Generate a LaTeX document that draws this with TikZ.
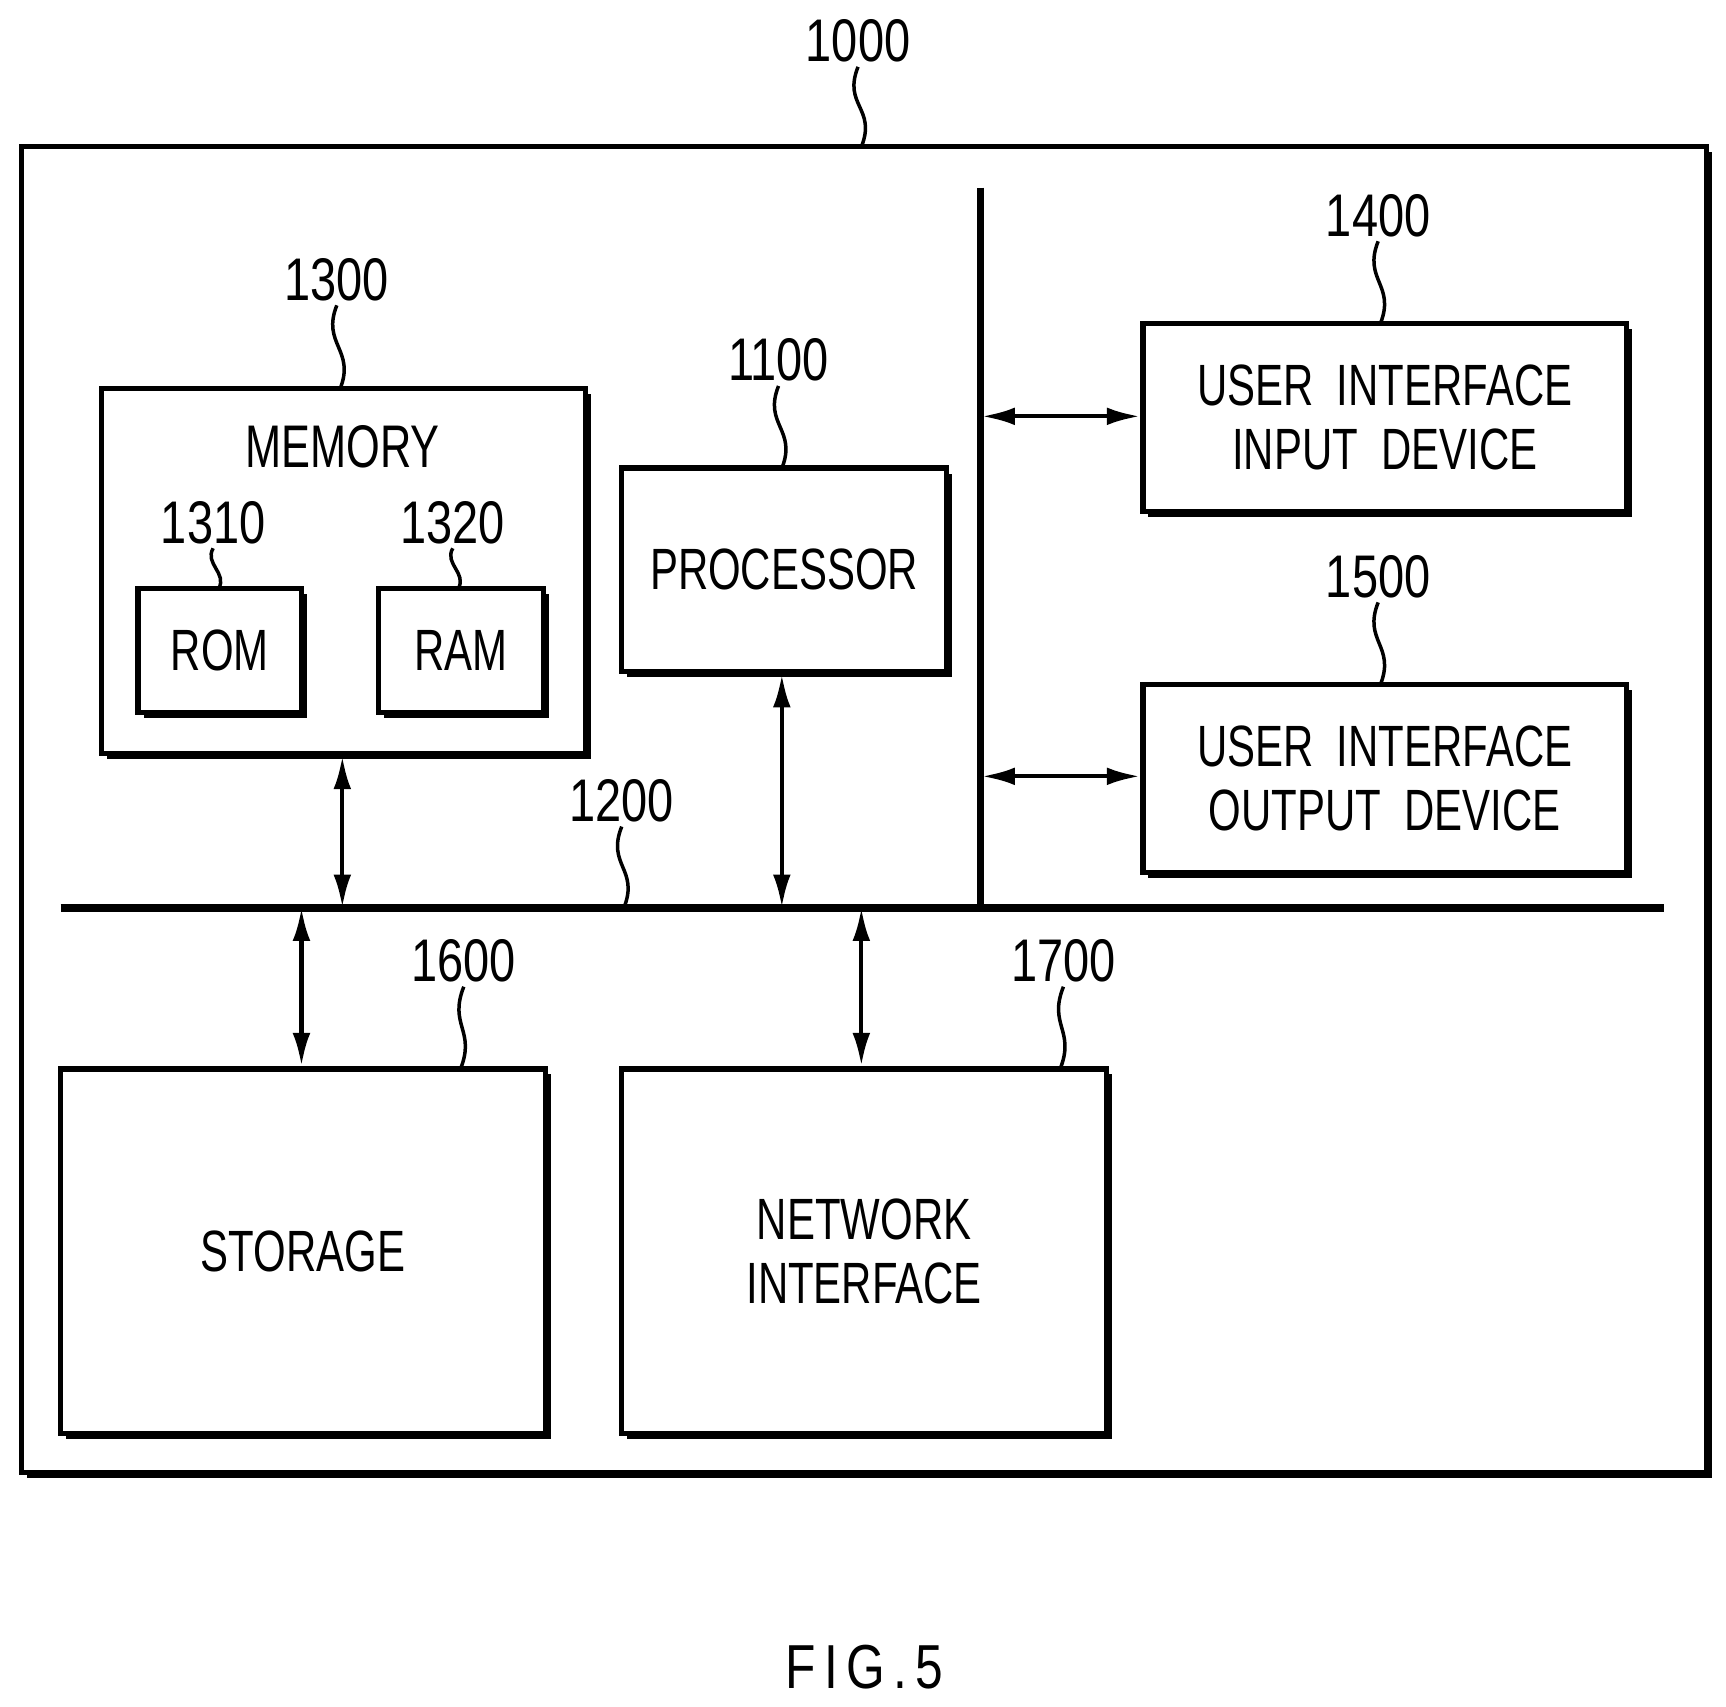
\documentclass[tikz,border=0pt]{standalone}
\usepackage{fontspec}
\setmainfont{Liberation Sans}
\usetikzlibrary{shadows,arrows.meta}
\begin{document}
\begin{tikzpicture}[x=0.01cm,y=-0.01cm,
  box/.style={draw,line width=1.4pt,fill=white,inner sep=0pt,align=center,
     general shadow={fill=black,shadow xshift=0.05cm,shadow yshift=-0.05cm},
     font=\fontsize{15}{16.5}\selectfont},
  lab/.style={font=\fontsize{15.5}{18}\selectfont,inner sep=1pt},
  leader/.style={line width=0.9pt},
  arr/.style={line width=1.1pt,{Latex[length=0.3cm,width=0.16cm]}-{Latex[length=0.3cm,width=0.16cm]}}]
\newcommand{\nr}[1]{\scalebox{0.78}[1]{#1}}
\newcommand{\tx}[1]{\scalebox{0.72}[1]{#1}}
\useasboundingbox (0,0) rectangle (1563,1545);
\node[box,minimum width=15.25cm,minimum height=12cm] (outer) at (782.5,733) {};
\node[box,minimum width=4.38cm,minimum height=3.3cm] (mem) at (311,517) {};
\node[lab] (memt) at (310,405) {\tx{MEMORY}};
\node[box,minimum width=1.48cm,minimum height=1.12cm] (rom) at (199,589) {\tx{ROM}};
\node[box,minimum width=1.49cm,minimum height=1.12cm] (ram) at (417.5,589) {\tx{RAM}};
\node[box,minimum width=2.94cm,minimum height=1.84cm] (proc) at (710,516) {\tx{PROCESSOR}};
\node[box,minimum width=4.38cm,minimum height=1.7cm] (uin) at (1254,378) {\tx{USER\ \ INTERFACE}\\\tx{INPUT\ \ DEVICE}};
\node[box,minimum width=4.38cm,minimum height=1.7cm] (uout) at (1254,705) {\tx{USER\ \ INTERFACE}\\\tx{OUTPUT\ \ DEVICE}};
\node[box,minimum width=4.39cm,minimum height=3.3cm] (sto) at (274.5,1133) {\tx{STORAGE}};
\node[box,minimum width=4.39cm,minimum height=3.3cm] (net) at (782.5,1133) {\tx{NETWORK}\\\tx{INTERFACE}};
% bus lines
\coordinate (busl) at (55,822); \coordinate (busr) at (1507,822);
\coordinate (vt) at (888,170); \coordinate (vb) at (888,822);
\draw[line width=2pt] (busl) -- (busr);
\draw[line width=2pt] (vt) -- (vb);
% arrows
\coordinate (a1) at (310,822); \coordinate (a2) at (708,822);
\coordinate (a3) at (273,822); \coordinate (a4) at (780,822);
\coordinate (v1) at (889,377); \coordinate (v2) at (889,703);
\draw[arr] (mem.south -| a1) -- (a1);
\draw[arr] (proc.south -| a2) -- (a2);
\draw[arr] (a3) -- (sto.north -| a3);
\draw[arr] (a4) -- (net.north -| a4);
\draw[arr] (v1) -- (uin.west |- v1);
\draw[arr] (v2) -- (uout.west |- v2);
% labels
\node[lab] (l1000) at (777,37) {\nr{1000}};
\node[lab] (l1300) at (305,253) {\nr{1300}};
\node[lab] (l1310) at (193,473) {\nr{1310}};
\node[lab] (l1320) at (410,473) {\nr{1320}};
\node[lab] (l1100) at (705,326) {\nr{1100}};
\node[lab] (l1400) at (1248,195) {\nr{1400}};
\node[lab] (l1500) at (1248,522) {\nr{1500}};
\node[lab] (l1200) at (563,725) {\nr{1200}};
\node[lab] (l1600) at (420,870) {\nr{1600}};
\node[lab] (l1700) at (963,870) {\nr{1700}};
\coordinate (t1000) at (780,133); \coordinate (t1300) at (308,352);
\coordinate (t1310) at (198,533); \coordinate (t1320) at (415,533);
\coordinate (t1100) at (708,424); \coordinate (t1400) at (1250,293);
\coordinate (t1500) at (1250,620); \coordinate (t1200) at (565,822);
\coordinate (t1600) at (417,968); \coordinate (t1700) at (960,968);
\foreach \n in {1000,1300,1100,1400,1500,1200,1600,1700}
  \draw[leader] (l\n.south) .. controls +(-14,35) and +(14,-35) .. (t\n);
\foreach \n in {1310,1320}
  \draw[leader] (l\n.south) .. controls +(-8,14) and +(8,-14) .. (t\n);
\node[font=\fontsize{16}{20}\selectfont] (fig) at (783,1510) {\scalebox{0.8}[1]{F\,I\,G\,.\,5}};
\end{tikzpicture}
\end{document}
